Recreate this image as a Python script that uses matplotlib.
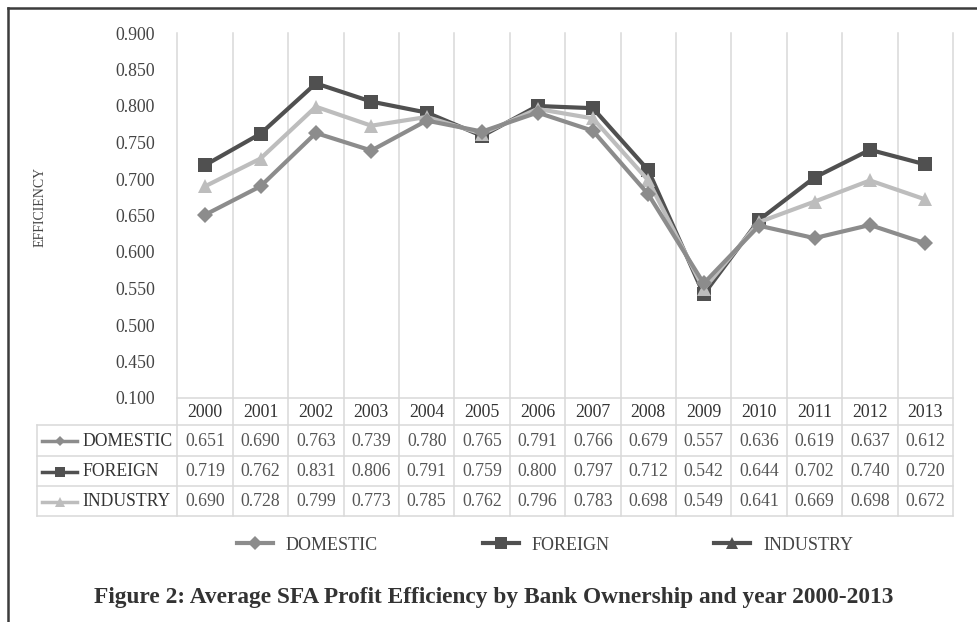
import numpy as np
import matplotlib.pyplot as plt
from matplotlib.lines import Line2D

plt.rcParams['font.family'] = ['Liberation Serif', 'DejaVu Serif']

years = ['2000', '2001', '2002', '2003', '2004', '2005', '2006',
         '2007', '2008', '2009', '2010', '2011', '2012', '2013']
domestic = [0.651, 0.690, 0.763, 0.739, 0.780, 0.765, 0.791,
            0.766, 0.679, 0.557, 0.636, 0.619, 0.637, 0.612]
foreign = [0.719, 0.762, 0.831, 0.806, 0.791, 0.759, 0.800,
           0.797, 0.712, 0.542, 0.644, 0.702, 0.740, 0.720]
industry = [0.690, 0.728, 0.799, 0.773, 0.785, 0.762, 0.796,
            0.783, 0.698, 0.549, 0.641, 0.669, 0.698, 0.672]
names = ['DOMESTIC', 'FOREIGN', 'INDUSTRY']
yticks = [0.40, 0.45, 0.50, 0.55, 0.60, 0.65, 0.70, 0.75, 0.80, 0.85, 0.90]
ytick_labels = ['0.100', '0.450', '0.500', '0.550', '0.600', '0.650',
                '0.700', '0.750', '0.800', '0.850', '0.900']

series = [domestic, foreign, industry]
colors = ['#8c8c8c', '#505050', '#bdbdbd']
markers = ['D', 's', '^']
msize = [8, 10, 10]
zord = [4, 2, 3]
grid_c = '#d9d9d9'

W_PX, H_PX = 977, 622
fig = plt.figure(figsize=(W_PX / 100, H_PX / 100), dpi=100)

# layout in pixels
L, R = 177.4, 953.0
TOP, BOT = 33.0, 398.0
TL = 37.0
rows_y = [425.0, 455.5, 486.0, 516.0]
cw = (R - L) / len(years)

# background layer for frame, grid and data table (pixel coordinates)
bg = fig.add_axes([0, 0, 1, 1], zorder=0)
bg.set_xlim(0, W_PX)
bg.set_ylim(H_PX, 0)
bg.axis('off')

bg.plot([7.5, 7.5], [8, H_PX], color='#3c3c3c', lw=1.8)
bg.plot([7.5, W_PX], [8, 8], color='#3c3c3c', lw=1.8)

for k in range(len(years) + 1):
    x = L + k * cw
    bg.plot([x, x], [TOP, rows_y[-1]], color=grid_c, lw=1.1)
bg.plot([L, R], [BOT, BOT], color=grid_c, lw=1.1)
for y in rows_y:
    bg.plot([TL, R], [y, y], color=grid_c, lw=1.1)
bg.plot([TL, TL], [rows_y[0], rows_y[-1]], color=grid_c, lw=1.1)

for i, yr in enumerate(years):
    bg.text(L + (i + 0.5) * cw, (BOT + rows_y[0]) / 2 + 1, yr,
            ha='center', va='center', fontsize=12.8, color='#333333')

for r, (name, vals) in enumerate(zip(names, series)):
    yc = (rows_y[r] + rows_y[r + 1]) / 2 + 1
    bg.plot([42, 77], [yc, yc], color=colors[r], lw=2.5)
    bg.plot([59.5], [yc], marker=markers[r], ms=msize[r] * 0.7,
            color=colors[r], mew=0)
    bg.text(82, yc, name, ha='left', va='center', fontsize=12.7,
            color='#333333')
    for i, v in enumerate(vals):
        bg.text(L + (i + 0.5) * cw, yc, f'{v:.3f}', ha='center',
                va='center', fontsize=12.8, color='#555555')

bg.text(40, 207, 'EFFICIENCY', rotation=90, ha='center', va='center',
        fontsize=10, color='#444444')

bg.text(494, 598, 'Figure 2: Average SFA Profit Efficiency by Bank Ownership '
        'and year 2000-2013', ha='center', va='center', fontsize=16.8,
        fontweight='bold', color='#333333')

# line chart
ax = fig.add_axes([L / W_PX, 1 - BOT / H_PX, (R - L) / W_PX,
                   (BOT - TOP) / H_PX], zorder=1)
ax.patch.set_visible(False)
xs = np.arange(len(years)) + 0.5
for vals, c, m, ms, z in zip(series, colors, markers, msize, zord):
    ax.plot(xs, vals, color=c, lw=3, marker=m, ms=ms, mew=0, zorder=z)
ax.set_xlim(0, len(years))
ax.set_ylim(0.40, 0.90)
ax.set_xticks([])
ax.set_yticks(yticks)
ax.set_yticklabels(ytick_labels, fontsize=12.8, color='#444444')
ax.tick_params(axis='y', length=0, pad=16)
for s in ax.spines.values():
    s.set_visible(False)

# legend below the table; the last entry is shown in the darker tone
leg_colors = [colors[0], colors[1], '#505050']
handles = [Line2D([], [], color=c, lw=3, marker=m, ms=ms * 0.85, mew=0)
           for c, m, ms in zip(leg_colors, markers, msize)]
fig.legend(handles, names, loc='center', ncol=3,
           bbox_to_anchor=(545 / W_PX, 1 - 545 / H_PX), frameon=False,
           fontsize=13, handlelength=2.0, handletextpad=0.7,
           columnspacing=5.8, labelcolor='#444444')

fig.savefig('out.png', dpi=100, facecolor='white')
